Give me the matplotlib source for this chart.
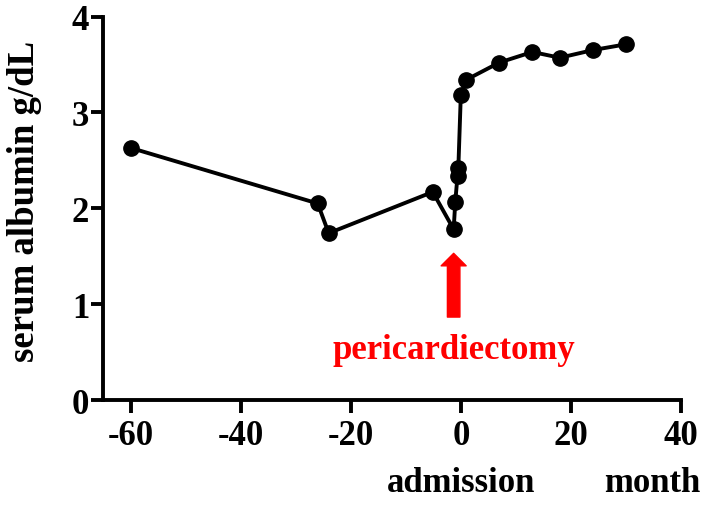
import matplotlib
matplotlib.use("Agg")
import matplotlib.pyplot as plt
from matplotlib.patches import FancyArrowPatch

# data (month relative to admission, serum albumin g/dL)
months = [-60, -26, -24, -5.1, -1.3, -1.0, -0.6, -0.45, 0.0, 1.0, 7, 13, 18, 24, 30]
albumin = [2.63, 2.05, 1.74, 2.17, 1.78, 2.07, 2.34, 2.42, 3.18, 3.34, 3.52, 3.63, 3.57, 3.65, 3.71]

x_ticks = [-60, -40, -20, 0, 20, 40]
y_ticks = [0, 1, 2, 3, 4]

arrow_x = -1.3
arrow_from, arrow_to = 0.865, 1.53

plt.rcParams["font.family"] = ["Liberation Serif", "DejaVu Serif"]
plt.rcParams["font.weight"] = "bold"

fig = plt.figure(figsize=(7.09, 5.06), dpi=100)
ax = fig.add_axes([0.1453, 0.2075, 0.9605 - 0.1453, 0.9654 - 0.2075])

ax.plot(months, albumin, color="black", lw=2.8, marker="o", ms=11, zorder=3)

ax.set_xlim(-65, 40)
ax.set_ylim(0, 4)
ax.set_xticks(x_ticks)
ax.set_yticks(y_ticks)
ax.set_xticklabels([str(t) for t in x_ticks], fontsize=25, fontweight="bold")
ax.set_yticklabels([str(t) for t in y_ticks], fontsize=25, fontweight="bold")

for s in ["top", "right"]:
    ax.spines[s].set_visible(False)
for s in ["left", "bottom"]:
    ax.spines[s].set_linewidth(2.8)
ax.tick_params(axis="both", width=2.8, length=9)
ax.tick_params(axis="x", pad=5)
ax.tick_params(axis="y", pad=1)

ax.set_ylabel("serum albumin g/dL", fontsize=26.5, fontweight="bold")
ax.yaxis.set_label_coords(-0.105, 0.52)

# pericardiectomy arrow
arr = FancyArrowPatch((arrow_x, arrow_from), (arrow_x, arrow_to),
                      arrowstyle="simple,head_length=9,head_width=18,tail_width=9",
                      mutation_scale=1, color="red", shrinkA=0, shrinkB=0, zorder=4)
ax.add_patch(arr)
ax.text(arrow_x, 0.525, "pericardiectomy", color="red", fontsize=25,
        fontweight="bold", ha="center", va="center")

# bottom labels
trans = ax.get_xaxis_transform()
ax.text(0, -0.237, "admission", transform=trans, fontsize=25, fontweight="bold",
        ha="center", va="baseline", clip_on=False)
ax.text(34.7, -0.237, "month", transform=trans, fontsize=25, fontweight="bold",
        ha="center", va="baseline", clip_on=False)

fig.savefig("out.png", dpi=100)
